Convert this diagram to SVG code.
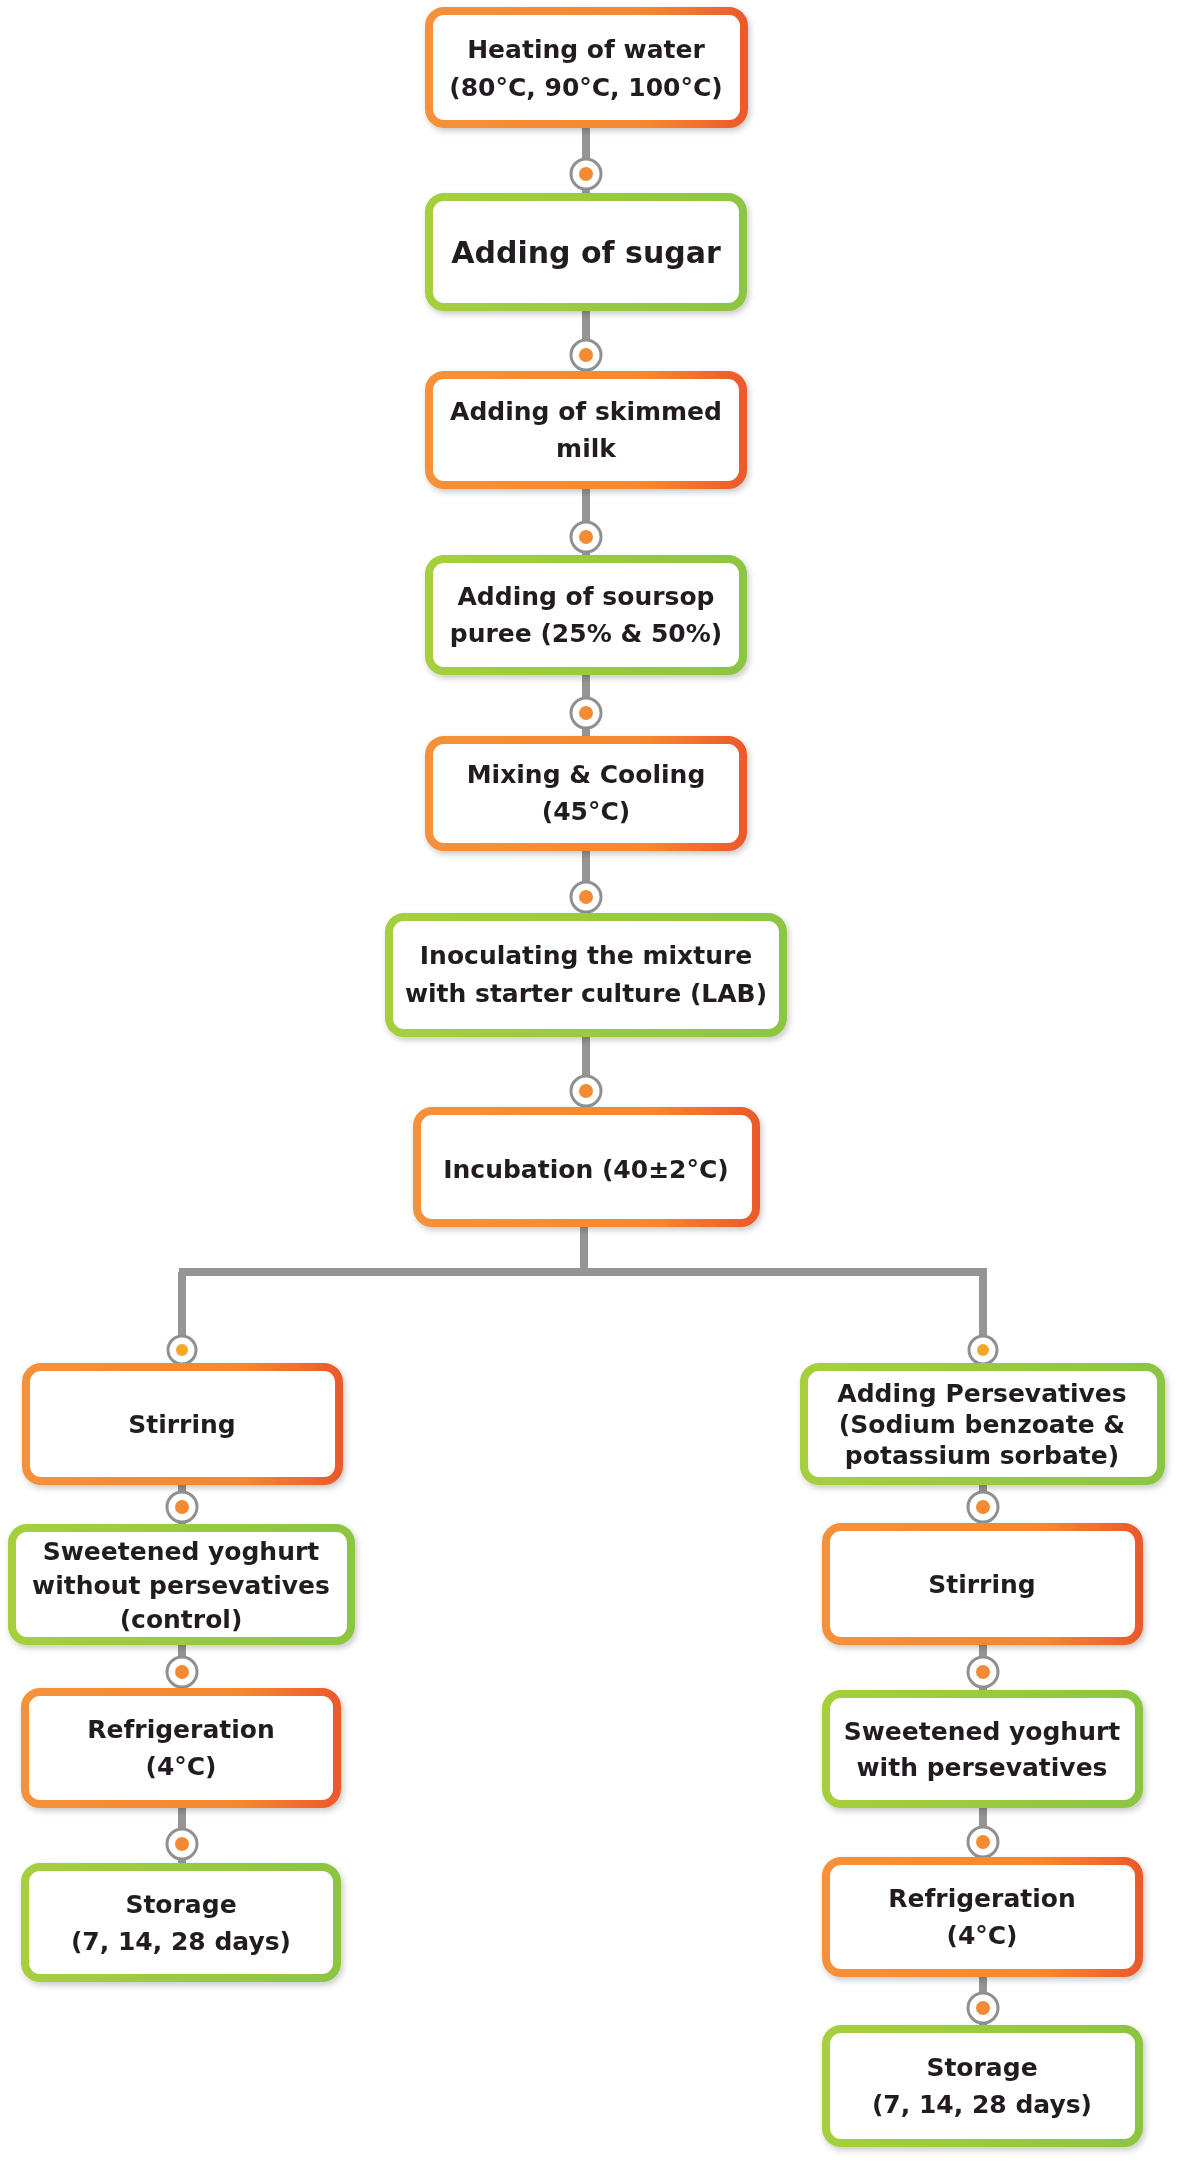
<svg xmlns="http://www.w3.org/2000/svg" width="1180" height="2163" viewBox="0 0 1180 2163">
<style>
.or{fill:#fff;stroke:url(#gO);stroke-width:8}
.gr{fill:#fff;stroke:url(#gG);stroke-width:8}
.box{filter:url(#sh)}
text{font-family:"DejaVu Sans","Liberation Sans",sans-serif;font-weight:bold;font-size:25px;fill:#231f20;text-anchor:middle}
.big{font-size:30px}
.ln{stroke:#959595;stroke-width:8;fill:none}
.ring{fill:#fff;stroke:#909090;stroke-width:3}
.dot{fill:#f58a34}
.dy{fill:#f7a727}
</style>
<defs>
<linearGradient id="gO" x1="0" y1="0" x2="1" y2="0">
<stop offset="0" stop-color="#f6913a"/><stop offset="0.7" stop-color="#f5872f"/><stop offset="1" stop-color="#ec5a2c"/>
</linearGradient>
<linearGradient id="gG" x1="0" y1="0" x2="1" y2="0">
<stop offset="0" stop-color="#a6cf3c"/><stop offset="1" stop-color="#8cc543"/>
</linearGradient>
<filter id="sh" x="-10%" y="-10%" width="120%" height="130%">
<feDropShadow dx="2" dy="3" stdDeviation="3" flood-color="#000" flood-opacity="0.22"/>
</filter>
</defs>
<g id="connectors">
<path class="ln" d="M586 128V193M586 311V371M586 489V555M586 675V736M586 851V913M586 1037V1107M584 1227V1272M179 1272H987M182 1272V1363M983 1272V1363M182 1485V1524M182 1645V1688M182 1808V1863M983 1485V1523M983 1645V1690M983 1808V1857M983 1977V2025"/>
<g>
<circle class="ring" cx="586" cy="174" r="15"/><circle class="dot" cx="586" cy="174" r="7"/>
<circle class="ring" cx="586" cy="355" r="15"/><circle class="dot" cx="586" cy="355" r="7"/>
<circle class="ring" cx="586" cy="537" r="15"/><circle class="dot" cx="586" cy="537" r="7"/>
<circle class="ring" cx="586" cy="713" r="15"/><circle class="dot" cx="586" cy="713" r="7"/>
<circle class="ring" cx="586" cy="897" r="15"/><circle class="dot" cx="586" cy="897" r="7"/>
<circle class="ring" cx="586" cy="1091" r="15"/><circle class="dot" cx="586" cy="1091" r="7"/>
<circle class="ring" cx="182" cy="1350" r="14"/><circle class="dy" cx="182" cy="1350" r="6"/>
<circle class="ring" cx="182" cy="1507" r="15"/><circle class="dot" cx="182" cy="1507" r="7"/>
<circle class="ring" cx="182" cy="1672" r="15"/><circle class="dot" cx="182" cy="1672" r="7"/>
<circle class="ring" cx="182" cy="1844" r="15"/><circle class="dot" cx="182" cy="1844" r="7"/>
<circle class="ring" cx="983" cy="1350" r="14"/><circle class="dy" cx="983" cy="1350" r="6"/>
<circle class="ring" cx="983" cy="1507" r="15"/><circle class="dot" cx="983" cy="1507" r="7"/>
<circle class="ring" cx="983" cy="1672" r="15"/><circle class="dot" cx="983" cy="1672" r="7"/>
<circle class="ring" cx="983" cy="1842" r="15"/><circle class="dot" cx="983" cy="1842" r="7"/>
<circle class="ring" cx="983" cy="2008" r="15"/><circle class="dot" cx="983" cy="2008" r="7"/>
</g>
</g>
<g id="n1" class="box"><rect class="or" x="429" y="11" width="315" height="113" rx="15"/>
<text x="586" y="58">Heating of water</text><text x="586" y="96">(80°C, 90°C, 100°C)</text></g>
<g id="n2" class="box"><rect class="gr" x="429" y="197" width="314" height="110" rx="15"/>
<text class="big" x="586" y="263">Adding of sugar</text></g>
<g id="n3" class="box"><rect class="or" x="429" y="375" width="314" height="110" rx="15"/>
<text x="586" y="420">Adding of skimmed</text><text x="586" y="457">milk</text></g>
<g id="n4" class="box"><rect class="gr" x="429" y="559" width="314" height="112" rx="15"/>
<text x="586" y="605">Adding of soursop</text><text x="586" y="642">puree (25% &amp; 50%)</text></g>
<g id="n5" class="box"><rect class="or" x="429" y="740" width="314" height="107" rx="15"/>
<text x="586" y="783">Mixing &amp; Cooling</text><text x="586" y="820">(45°C)</text></g>
<g id="n6" class="box"><rect class="gr" x="389" y="917" width="394" height="116" rx="15"/>
<text x="586" y="964">Inoculating the mixture</text><text x="586" y="1002">with starter culture (LAB)</text></g>
<g id="n7" class="box"><rect class="or" x="417" y="1111" width="339" height="112" rx="15"/>
<text x="586" y="1178">Incubation (40±2°C)</text></g>
<g id="l1" class="box"><rect class="or" x="26" y="1367" width="313" height="114" rx="15"/>
<text x="182" y="1433">Stirring</text></g>
<g id="l2" class="box"><rect class="gr" x="12" y="1528" width="339" height="113" rx="15"/>
<text x="181" y="1560">Sweetened yoghurt</text><text x="181" y="1594">without persevatives</text><text x="181" y="1628">(control)</text></g>
<g id="l3" class="box"><rect class="or" x="25" y="1692" width="312" height="112" rx="15"/>
<text x="181" y="1738">Refrigeration</text><text x="181" y="1775">(4°C)</text></g>
<g id="l4" class="box"><rect class="gr" x="25" y="1867" width="312" height="111" rx="15"/>
<text x="181" y="1913">Storage</text><text x="181" y="1950">(7, 14, 28 days)</text></g>
<g id="r1" class="box"><rect class="gr" x="804" y="1367" width="357" height="114" rx="15"/>
<text x="982" y="1402">Adding Persevatives</text><text x="982" y="1433">(Sodium benzoate &amp;</text><text x="982" y="1464">potassium sorbate)</text></g>
<g id="r2" class="box"><rect class="or" x="826" y="1527" width="313" height="114" rx="15"/>
<text x="982" y="1593">Stirring</text></g>
<g id="r3" class="box"><rect class="gr" x="826" y="1694" width="313" height="110" rx="15"/>
<text x="982" y="1740">Sweetened yoghurt</text><text x="982" y="1776">with persevatives</text></g>
<g id="r4" class="box"><rect class="or" x="826" y="1861" width="313" height="112" rx="15"/>
<text x="982" y="1907">Refrigeration</text><text x="982" y="1944">(4°C)</text></g>
<g id="r5" class="box"><rect class="gr" x="826" y="2029" width="313" height="114" rx="15"/>
<text x="982" y="2076">Storage</text><text x="982" y="2113">(7, 14, 28 days)</text></g>
</svg>
